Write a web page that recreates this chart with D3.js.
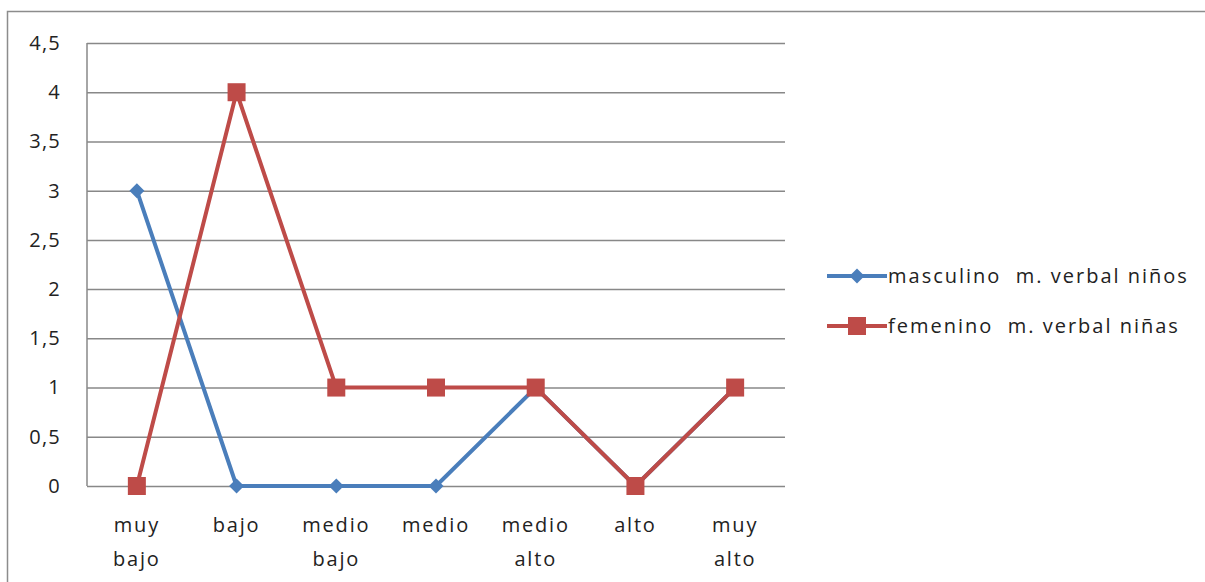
<!DOCTYPE html>
<html>
<head>
<meta charset="utf-8">
<script src="https://cdn.jsdelivr.net/npm/d3@7"></script>
<style>
  html, body { margin: 0; padding: 0; background: #fff; }
  svg { display: block; }
  text { font-family: "Open Sans", "Noto Sans", sans-serif; fill: #222; }
</style>
</head>
<body>
<svg id="chart" width="1205" height="582"></svg>
<script>
// Niveles de la escala
const categories = [["muy", "bajo"], ["bajo"], ["medio", "bajo"], ["medio"], ["medio", "alto"], ["alto"], ["muy", "alto"]];
const masculino = [3, 0, 0, 0, 1, 0, 1];
const femenino = [0, 4, 1, 1, 1, 0, 1];
const yTicks = [0, 0.5, 1, 1.5, 2, 2.5, 3, 3.5, 4, 4.5];
const seriesNames = ["masculino  m. verbal niños", "femenino  m. verbal niñas"];
const seriesColors = ["#4a7ebb", "#be4b48"];

const svg = d3.select("#chart");
const W = 1205, H = 582;
const FONT = 20;

// Marco exterior del gráfico
svg.append("path")
  .attr("d", `M7.5,${H} L7.5,11.5 L${W},11.5`)
  .attr("fill", "none").attr("stroke", "#8c8c8c").attr("stroke-width", 1.5);

const plot = { left: 87, right: 785, top: 43, bottom: 486 };

const x = d3.scaleBand()
  .domain(d3.range(categories.length))
  .range([plot.left, plot.right]);

const y = d3.scaleLinear()
  .domain([0, 4.5])
  .range([plot.bottom, plot.top]);

const fmt = d => String(d).replace(".", ",");

// Líneas de cuadrícula y etiquetas del eje Y
const yAxis = d3.axisLeft(y)
  .tickValues(yTicks)
  .tickSize(-(plot.right - plot.left))
  .tickPadding(26)
  .tickFormat(fmt);

const gy = svg.append("g")
  .attr("transform", `translate(${plot.left},0)`)
  .call(yAxis);
gy.select(".domain").remove();
gy.selectAll(".tick line").attr("stroke", "#888").attr("stroke-width", 1.5);
gy.selectAll(".tick text")
  .attr("font-size", FONT)
  .attr("letter-spacing", 1.2)
  .style("font-family", "'Open Sans', 'Noto Sans', sans-serif")
  .attr("fill", "#222");

// Eje vertical
svg.append("line")
  .attr("x1", plot.left).attr("x2", plot.left)
  .attr("y1", plot.top).attr("y2", plot.bottom)
  .attr("stroke", "#888").attr("stroke-width", 1.5);

const cx = i => x(i) + x.bandwidth() / 2;

// Etiquetas de categoría (dos líneas)
const xLabels = svg.append("g");
categories.forEach((lines, i) => {
  const t = xLabels.append("text")
    .attr("x", cx(i))
    .attr("y", 532)
    .attr("text-anchor", "middle")
    .attr("letter-spacing", 1.8)
    .attr("font-size", FONT);
  lines.forEach((ln, j) => {
    t.append("tspan")
      .attr("x", cx(i))
      .attr("dy", j === 0 ? 0 : 34)
      .text(ln);
  });
});

const line = d3.line().x((d, i) => cx(i)).y(d => y(d));

// Rombo de 14 px de ancho
const diamondPath = "M0,-7.5L7.5,0L0,7.5L-7.5,0Z";
const sq = 18;

// Serie masculino
svg.append("path")
  .datum(masculino)
  .attr("d", line)
  .attr("fill", "none")
  .attr("stroke", seriesColors[0])
  .attr("stroke-width", 4)
  .attr("stroke-linejoin", "round");
svg.append("g").selectAll("path")
  .data(masculino)
  .join("path")
  .attr("d", diamondPath)
  .attr("transform", (d, i) => `translate(${cx(i)},${y(d)})`)
  .attr("fill", seriesColors[0]);

// Serie femenino
svg.append("path")
  .datum(femenino)
  .attr("d", line)
  .attr("fill", "none")
  .attr("stroke", seriesColors[1])
  .attr("stroke-width", 4)
  .attr("stroke-linejoin", "round");
svg.append("g").selectAll("rect")
  .data(femenino)
  .join("rect")
  .attr("x", (d, i) => cx(i) - sq / 2)
  .attr("y", d => y(d) - sq / 2)
  .attr("width", sq).attr("height", sq)
  .attr("fill", seriesColors[1]);

// Leyenda
const legend = svg.append("g");
const legY = [276, 326];
seriesNames.forEach((name, i) => {
  const g = legend.append("g").attr("transform", `translate(827,${legY[i]})`);
  g.append("line")
    .attr("x1", 0).attr("x2", 60)
    .attr("stroke", seriesColors[i]).attr("stroke-width", 4);
  if (i === 0) {
    g.append("path")
      .attr("d", diamondPath)
      .attr("transform", "translate(30,0)")
      .attr("fill", seriesColors[i]);
  } else {
    g.append("rect")
      .attr("x", 30 - sq / 2).attr("y", -sq / 2)
      .attr("width", sq).attr("height", sq)
      .attr("fill", seriesColors[i]);
  }
  g.append("text")
    .attr("x", 61)
    .attr("y", 7)
    .attr("font-size", FONT)
    .attr("letter-spacing", 2)
    .style("white-space", "pre")
    .text(name);
});
</script>
</body>
</html>
